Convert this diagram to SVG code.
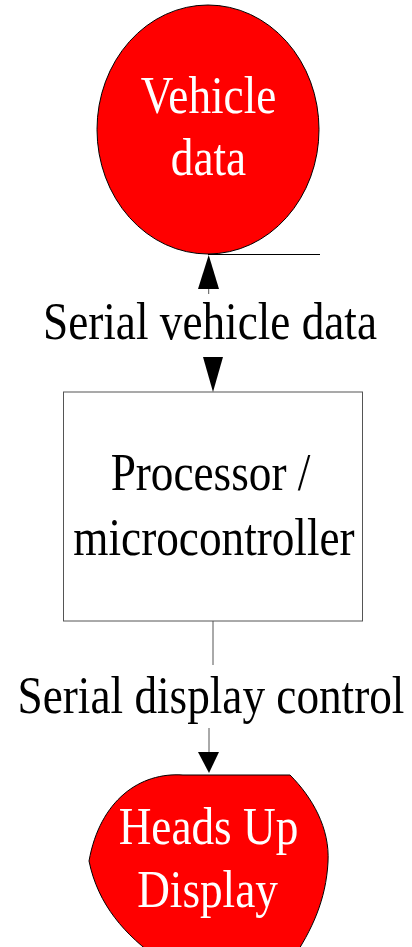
<svg xmlns="http://www.w3.org/2000/svg" width="412" height="947" viewBox="0 0 412 947">
<style>
.node{fill:#ff0000;stroke:#000;stroke-width:1}
.box{fill:#fff;stroke:#555;stroke-width:1}
.t{font-family:"Liberation Serif","Times New Roman",serif;font-size:52px;text-anchor:middle}
.w{fill:#fff}
.k{fill:#000}
.ln{stroke:#555;stroke-width:1;fill:none}
.ah{fill:#000}
</style>
<g id="vehicle-data">
<ellipse class="node" cx="208" cy="129.5" rx="111" ry="124.5"/>
<text class="t w" transform="translate(208.5,113) scale(0.87,1)">Vehicle</text>
<text class="t w" transform="translate(208.5,175) scale(0.87,1)">data</text>
</g>
<g id="processor">
<rect class="box" x="63.5" y="392" width="299" height="229"/>
<text class="t k" transform="translate(210.5,490) scale(0.87,1)">Processor /</text>
<text class="t k" transform="translate(214,555) scale(0.87,1)">microcontroller</text>
</g>
<g id="hud">
<path class="node" d="M183,775 L290,775 C312,797 330,828 328,862 C326,900 312,930 292,960 L160,960 C125,935 98,905 89,861 C100,800 140,772 183,775 Z"/>
<text class="t w" transform="translate(208.5,844) scale(0.87,1)">Heads Up</text>
<text class="t w" transform="translate(207.5,907) scale(0.87,1)">Display</text>
</g>
<g id="connectors">
<line class="ln" x1="208" y1="254.5" x2="320" y2="254.5" style="stroke:#000"/>
<polygon class="ah" points="208.7,255 198,289 219,289"/>
<line class="ln" x1="208.7" y1="289" x2="208.7" y2="294"/>
<text class="t k" transform="translate(210,339) scale(0.87,1)">Serial vehicle data</text>
<polygon class="ah" points="203,357 223,357 213,392"/>
<line class="ln" x1="213" y1="621" x2="213" y2="665"/>
<text class="t k" transform="translate(211,713) scale(0.87,1)">Serial display control</text>
<line class="ln" x1="209" y1="728" x2="209" y2="752"/>
<polygon class="ah" points="198,752 219,752 209,773"/>
</g>
</svg>
